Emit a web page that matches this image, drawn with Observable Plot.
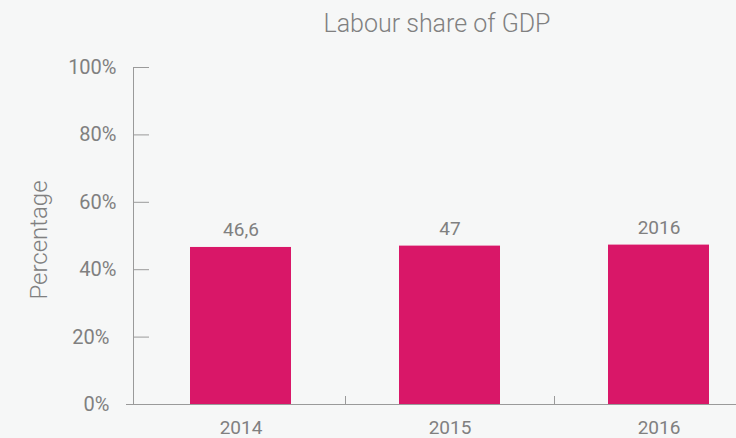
<!DOCTYPE html>
<html><head><meta charset="utf-8">
<script src="https://cdn.jsdelivr.net/npm/d3@7"></script>
<script src="https://cdn.jsdelivr.net/npm/@observablehq/plot@0.6"></script>
<style>html,body{margin:0;padding:0;background:#f6f7f7;}</style>
</head><body><div id="chart"></div>
<script>
const title = "Labour share of GDP";
const yLabel = "Percentage";
const years = ["2014", "2015", "2016"];
const values = [46.6, 47, 47.3];
const labels = ["46,6", "47", "2016"];
const yTicks = [0, 20, 40, 60, 80, 100];
const yTicksLow = [0, 20];
const yTicksHigh = [40, 60, 80, 100];

const data = years.map((year, i) => ({year, value: values[i], label: labels[i]}));

const W = 736, H = 438;
const xStart = 136, xEnd = 763;
const step = (xEnd - xStart) / years.length;
const axisColor = "#9a9a9a";
const textColor = "#808080";

const chart = Plot.plot({
  width: W, height: H,
  marginTop: 67, marginBottom: 34, marginLeft: 133, marginRight: 0,
  style: {fontFamily: "Roboto", fontSize: "19px", color: textColor, background: "transparent", overflow: "visible"},
  x: {domain: years, range: [xStart, xEnd], paddingInner: 0.517, paddingOuter: 0.2585, axis: null},
  y: {domain: [0, 100], axis: null},
  marks: [
    Plot.barY(data, {x: "year", y: "value", fill: "#d91768"}),
    Plot.ruleY([0], {stroke: axisColor, insetLeft: -7}),
    Plot.frame({anchor: "left", stroke: axisColor}),
    Plot.axisY(yTicks, {tickSize: 16, dx: 16, tickFormat: () => "", stroke: axisColor, label: null}),
    Plot.axisY(yTicksHigh, {tickSize: 0, tickPadding: 17, tickFormat: d => d + "%", label: null, fill: textColor, fontSize: 20}),
    Plot.axisY(yTicksLow, {tickSize: 0, tickPadding: 24, tickFormat: d => d + "%", label: null, fill: textColor, fontSize: 20}),
    Plot.axisX(years, {tickSize: 0, tickPadding: 16, label: null, fill: textColor}),
    Plot.axisX(years.slice(1), {tickSize: 8, dy: -8, dx: -step / 2, tickFormat: () => "", stroke: axisColor, label: null}),
    Plot.text(data, {x: "year", y: "value", text: "label", lineAnchor: "bottom", dy: -11, fill: textColor}),
    Plot.text([title], {frameAnchor: "top", lineAnchor: "top", dy: -53, dx: 2, fontSize: 25, fontWeight: 300, fill: textColor}),
    Plot.text([yLabel], {frameAnchor: "left", textAnchor: "middle", lineAnchor: "middle", rotate: -90, dx: -94, dy: 4, fontSize: 24, fontWeight: 300, fill: textColor})
  ]
});
document.getElementById("chart").appendChild(chart);
</script>
</body></html>
